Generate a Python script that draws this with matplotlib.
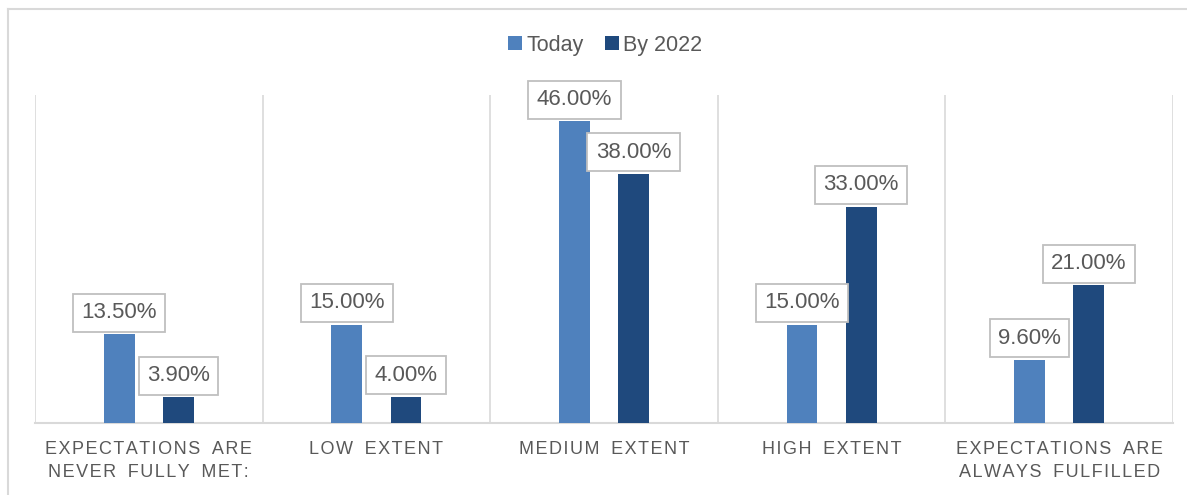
import matplotlib
matplotlib.use("Agg")
import matplotlib.pyplot as plt
from matplotlib.lines import Line2D

categories = [
    "EXPECTATIONS ARE\nNEVER FULLY MET:",
    "LOW EXTENT",
    "MEDIUM EXTENT",
    "HIGH EXTENT",
    "EXPECTATIONS ARE\nALWAYS FULFILLED",
]
series_names = ["Today", "By 2022"]
today = [13.5, 15.0, 46.0, 15.0, 9.6]
by_2022 = [3.9, 4.0, 38.0, 33.0, 21.0]

colors = ["#4F81BD", "#1F497D"]
text_color = "#595959"
grid_color = "#D9D9D9"

fam = ["Liberation Sans", "DejaVu Sans"]
plt.rcParams["font.family"] = fam

W, H = 1187, 495
fig = plt.figure(figsize=(W / 100, H / 100), dpi=100)

# outer chart frame (top and left edges)
fig.add_artist(Line2D([8 / W, 1], [1 - 9 / H, 1 - 9 / H], color=grid_color, lw=1.5, transform=fig.transFigure))
fig.add_artist(Line2D([8 / W, 8 / W], [0, 1 - 9 / H], color=grid_color, lw=1.5, transform=fig.transFigure))

left, right, bottom, top = 35 / W, 1173 / W, (H - 423) / H, (H - 95) / H
ax = fig.add_axes([left, bottom, right - left, top - bottom])

n = len(categories)
width = 0.135
offset = 0.13
xs = list(range(n))

for vals, sign, color, name in [(today, -1, colors[0], series_names[0]), (by_2022, 1, colors[1], series_names[1])]:
    pos = [x + sign * offset for x in xs]
    bars = ax.bar(pos, vals, width=width, color=color, label=name, zorder=3)
    for b, v in zip(bars, vals):
        ax.annotate(f"{v:.2f}%", (b.get_x() + b.get_width() / 2, v),
                    xytext=(0, 8), textcoords="offset points",
                    ha="center", va="bottom", fontsize=16, color=text_color,
                    bbox=dict(boxstyle="square,pad=0.38", fc="white", ec="#BFBFBF", lw=1.3),
                    zorder=5)

ax.set_xlim(-0.5, n - 0.5)
ax.set_ylim(0, 50)
for i in range(n + 1):
    ax.axvline(i - 0.5, color=grid_color, lw=1.2, zorder=1)

for s in ["top", "left", "right"]:
    ax.spines[s].set_visible(False)
ax.spines["bottom"].set_color(grid_color)
ax.spines["bottom"].set_linewidth(1.5)
ax.set_yticks([])
ax.set_xticks([])


def spaced(s):
    return "\n".join("\u200a".join(ch if ch != " " else "\u2009 " for ch in line) for line in s.split("\n"))


for x, c in zip(xs, categories):
    ax.text(x, -2.75, spaced(c), ha="center", va="top", fontsize=13, color=text_color,
            linespacing=1.45, transform=ax.transData)

handles, labels = ax.get_legend_handles_labels()
fig.legend(handles, labels, loc="center", bbox_to_anchor=(605 / W, 1 - 45 / H), ncol=2,
           frameon=False, fontsize=15.5, handlelength=0.65, handleheight=0.65,
           handletextpad=0.2, columnspacing=1.0, labelcolor=text_color)

fig.savefig("out.png", dpi=100)
